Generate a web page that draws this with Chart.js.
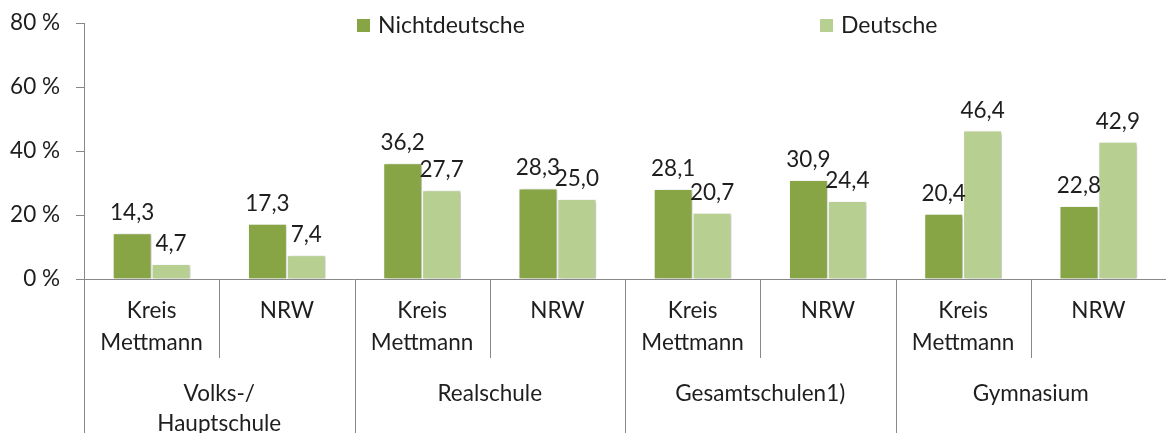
<!DOCTYPE html>
<html><head><meta charset="utf-8">
<script src="https://cdn.jsdelivr.net/npm/chart.js@4.4.1/dist/chart.umd.min.js"></script>
<style>html,body{margin:0;padding:0;background:#fff;}#wrap{width:1166px;height:433px;position:relative;}</style>
</head><body><div id="wrap"><canvas id="c" width="1166" height="433"></canvas></div>
<script>
const subLabels = [['Kreis','Mettmann'],'NRW',['Kreis','Mettmann'],'NRW',['Kreis','Mettmann'],'NRW',['Kreis','Mettmann'],'NRW'];
const groupLabels = [['Volks-/','Hauptschule'],'Realschule','Gesamtschulen1)','Gymnasium'];
const nichtdeutsche = [14.3,17.3,36.2,28.3,28.1,30.9,20.4,22.8];
const deutsche = [4.7,7.4,27.7,25.0,20.7,24.4,46.4,42.9];
const yTicks = [0,20,40,60,80];
const seriesNames = ['Nichtdeutsche','Deutsche'];

const DARK = '#87A544', LIGHT = '#B8CF92', AXIS = '#888888', TXT = '#1e1e1e';
const FONT = 'Lato, "Open Sans", sans-serif';
const FS = 22.5;

const overlay = {
  id:'overlay',
  beforeDatasetsDraw(chart){
    const ctx = chart.ctx;
    ctx.save();
    ctx.shadowColor = 'rgba(0,0,0,0.28)';
    ctx.shadowBlur = 3; ctx.shadowOffsetX = 1.5; ctx.shadowOffsetY = 1;
  },
  afterDatasetsDraw(chart){
    const ctx = chart.ctx;
    ctx.restore();
    ctx.save();
    ctx.fillStyle = TXT;
    ctx.font = FS + 'px ' + FONT;
    ctx.textAlign = 'center';
    ctx.textBaseline = 'alphabetic';
    chart.data.datasets.forEach((ds,di)=>{
      chart.getDatasetMeta(di).data.forEach((bar,i)=>{
        ctx.fillText(ds.data[i].toFixed(1).replace('.',','), bar.x, bar.y - 13);
      });
    });
    ctx.restore();
  },
  afterDraw(chart){
    const ctx = chart.ctx, x = chart.scales.x, x2 = chart.scales.x2;
    ctx.save();
    ctx.strokeStyle = AXIS; ctx.lineWidth = 1;
    const n = subLabels.length;
    const step = (x.getPixelForValue(1) - x.getPixelForValue(0));
    for (let b=0;b<n;b++){
      const px = Math.round(x.getPixelForValue(b) - step/2) + 0.5;
      const outer = (b % 2 === 0);
      ctx.beginPath();
      ctx.moveTo(px, x.top);
      ctx.lineTo(px, outer ? x2.bottom : x.bottom + 2);
      ctx.stroke();
    }
    // legend
    ctx.font = '23px ' + FONT;
    ctx.textBaseline = 'middle'; ctx.textAlign = 'left';
    const items = [[357,DARK,seriesNames[0]],[820,LIGHT,seriesNames[1]]];
    items.forEach(([lx,col,txt])=>{
      ctx.fillStyle = col; ctx.fillRect(lx,19,13,13);
      ctx.fillStyle = TXT; ctx.fillText(txt, lx+21, 26);
    });
    ctx.restore();
  }
};

new Chart(document.getElementById('c'), {
  type:'bar',
  data:{
    labels: subLabels,
    datasets:[
      {label:seriesNames[0], data:nichtdeutsche, backgroundColor:DARK, borderColor:'#ffffff', borderWidth:1, categoryPercentage:0.575, barPercentage:1.0, xAxisID:'x'},
      {label:seriesNames[1], data:deutsche, backgroundColor:LIGHT, borderColor:'#ffffff', borderWidth:1, categoryPercentage:0.575, barPercentage:1.0, xAxisID:'x'}
    ]
  },
  options:{
    responsive:false, animation:false,
    layout:{padding:{top:23,left:0,right:0,bottom:0}},
    plugins:{legend:{display:false}, tooltip:{enabled:false}},
    scales:{
      y:{
        min:0, max:80,
        afterBuildTicks(s){ s.ticks = yTicks.map(v=>({value:v})); },
        afterFit(s){ s.width = 84; },
        ticks:{callback:v=>v+' %', font:{family:FONT,size:FS,lineHeight:0.5}, color:TXT, padding:16},
        grid:{drawOnChartArea:false, color:AXIS, tickLength:8},
        border:{color:AXIS}
      },
      x:{
        afterFit(s){ s.height = 77; },
        ticks:{font:{family:FONT,size:FS,lineHeight:1.42}, color:TXT, padding:8, maxRotation:0, autoSkip:false},
        grid:{display:false},
        border:{color:AXIS}
      },
      x2:{
        type:'category', labels:groupLabels, position:'bottom', offset:true,
        afterFit(s){ s.height = 77; },
        ticks:{font:{family:FONT,size:FS,lineHeight:1.33}, color:TXT, padding:15, maxRotation:0, autoSkip:false},
        grid:{display:false},
        border:{display:false}
      }
    }
  },
  plugins:[overlay]
});
</script></body></html>
